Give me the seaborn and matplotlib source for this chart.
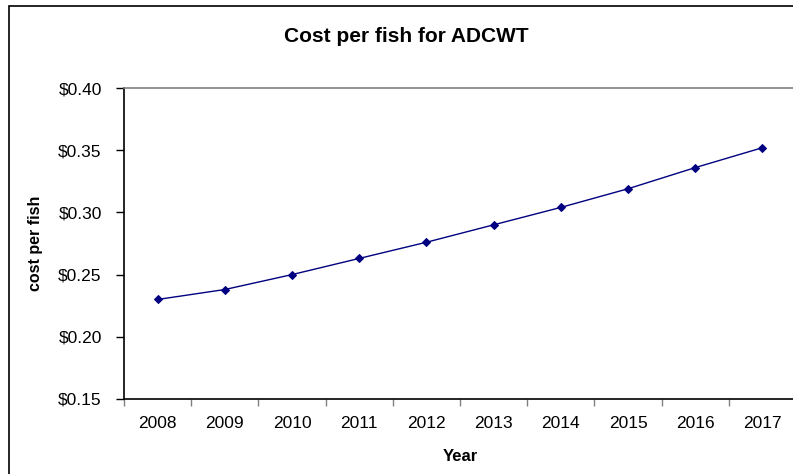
import pandas as pd
import matplotlib.pyplot as plt
import matplotlib.ticker as mticker
import seaborn as sns
from matplotlib.patches import Rectangle

# valores
anos = [2008, 2009, 2010, 2011, 2012, 2013, 2014, 2015, 2016, 2017]
custo = [0.230, 0.238, 0.250, 0.263, 0.276, 0.290, 0.304, 0.319, 0.336, 0.352]
y_ticks = [0.15, 0.20, 0.25, 0.30, 0.35, 0.40]

df = pd.DataFrame({'Year': anos, 'cost per fish': custo})

sns.set_style('white')
plt.rcParams['font.family'] = ['Liberation Sans', 'DejaVu Sans']
plt.rcParams['text.color'] = 'black'
plt.rcParams['axes.labelcolor'] = 'black'
plt.rcParams['xtick.color'] = 'black'
plt.rcParams['ytick.color'] = 'black'

W, H = 793, 474
fig = plt.figure(figsize=(W / 100, H / 100), dpi=100)
fig.patch.set_facecolor('white')

# borda externa do gráfico (continua além da imagem à direita e embaixo)
fig.patches.append(Rectangle((9 / W, -0.1), 1.2, 1 - 6 / H + 0.1, transform=fig.transFigure,
                             fill=False, edgecolor='black', linewidth=1.2))

ax = fig.add_axes([124 / W, (H - 399) / H, 672 / W, 311 / H])

sns.lineplot(data=df, x='Year', y='cost per fish', ax=ax, color='#000080',
             marker='D', markersize=4.5, markeredgecolor='#000080', linewidth=1)

ax.set_ylim(0.15, 0.40)
ax.set_yticks(y_ticks)
ax.yaxis.set_major_formatter(mticker.FuncFormatter(lambda v, p: f'${v:.2f}'))
ax.set_xlim(anos[0] - 0.5, anos[-1] + 0.5)

# marcas nas divisões entre anos, rótulos no centro
ax.set_xticks([a - 0.5 for a in anos] + [anos[-1] + 0.5])
ax.set_xticklabels([])
ax.set_xticks(anos, minor=True)
ax.set_xticklabels([str(a) for a in anos], minor=True, fontsize=12.5)
ax.tick_params(axis='x', which='major', direction='out', length=5, width=1, color='#808080', bottom=True)
ax.tick_params(axis='x', which='minor', length=0, pad=12, labelcolor='black')
ax.tick_params(axis='y', direction='out', length=6, width=1, color='black', left=True,
               labelsize=12.5, pad=10, labelcolor='black')

for s in ['left', 'bottom']:
    ax.spines[s].set_color('black')
    ax.spines[s].set_linewidth(1.2)
ax.spines['top'].set_color('#808080')
ax.spines['top'].set_linewidth(1.2)
ax.spines['right'].set_visible(False)

ax.set_xlabel('Year', fontsize=12, fontweight='bold', labelpad=13, color='black')
ax.set_ylabel('cost per fish', fontsize=11.5, fontweight='bold', labelpad=11, color='black')

fig.text(406 / W, 1 - 36 / H, 'Cost per fish for ADCWT', ha='center', va='center',
         fontsize=15, fontweight='bold', color='black')

fig.savefig('out.png', dpi=100)
